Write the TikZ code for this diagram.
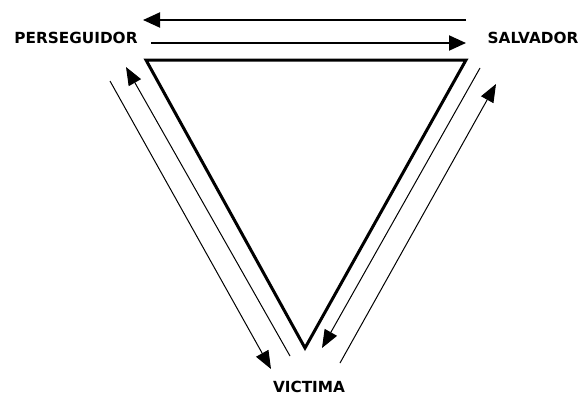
\documentclass[tikz,border=0pt]{standalone}
\usepackage{fontspec}
\setmainfont{DejaVu Sans}
\usetikzlibrary{arrows.meta}
\begin{document}
\begin{tikzpicture}[x=1pt,y=-1pt,
  lbl/.style={font=\bfseries\fontsize{15.3}{18}\selectfont, inner sep=0pt},
  tri/.style={line width=3pt, line join=miter},
  bigarrow/.style={line width=2pt, -{Triangle[length=17pt,width=15pt]}},
  diagarrow/.style={line width=1pt, -{Triangle[length=18pt,width=14pt]}}]
\useasboundingbox[fill=white] (0,0) rectangle (583,397);
\node[lbl] (pers) at (76,38) {PERSEGUIDOR};
\node[lbl] (salv) at (533,37.5) {SALVADOR};
\node[lbl] (vict) at (309,387) {VICTIMA};
\coordinate (tl) at (146,60);
\coordinate (tr) at (466,60);
\coordinate (bt) at (305,348);
\draw[tri] (tl) -- (tr) -- (bt) -- cycle;
% top arrows
\coordinate (t1s) at (466,20);
\coordinate (t1e) at (143,20);
\coordinate (t2s) at (151,43);
\coordinate (t2e) at (466,43);
\draw[bigarrow] (t1s) -- (t1e);
\draw[bigarrow] (t2s) -- (t2e);
% left arrows
\coordinate (l1s) at (110,81);
\coordinate (l1e) at (271,369);
\coordinate (l2s) at (290,356);
\coordinate (l2e) at (126,67);
\draw[diagarrow] (l1s) -- (l1e);
\draw[diagarrow] (l2s) -- (l2e);
% right arrows
\coordinate (r1s) at (480,68);
\coordinate (r1e) at (322,348);
\coordinate (r2s) at (340,363);
\coordinate (r2e) at (496,84);
\draw[diagarrow] (r1s) -- (r1e);
\draw[diagarrow] (r2s) -- (r2e);
\end{tikzpicture}
\end{document}
